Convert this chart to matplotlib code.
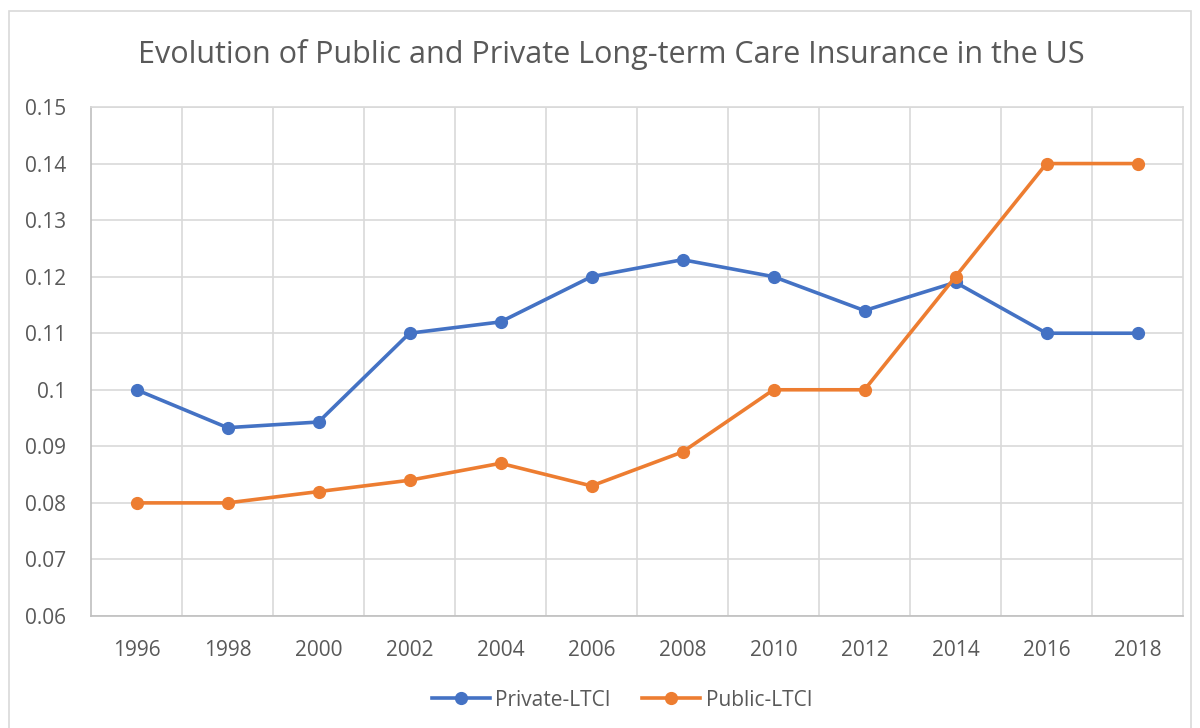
import matplotlib
matplotlib.use("Agg")
import matplotlib.pyplot as plt
import numpy as np
from matplotlib.patches import Rectangle

years = ["1996", "1998", "2000", "2002", "2004", "2006", "2008", "2010", "2012", "2014", "2016", "2018"]
private_ltci = [0.100, 0.0933, 0.0943, 0.110, 0.112, 0.120, 0.123, 0.120, 0.114, 0.119, 0.110, 0.110]
public_ltci = [0.080, 0.080, 0.082, 0.084, 0.087, 0.083, 0.089, 0.100, 0.100, 0.120, 0.140, 0.140]
y_ticks = [0.06, 0.07, 0.08, 0.09, 0.1, 0.11, 0.12, 0.13, 0.14, 0.15]
y_tick_labels = ["0.06", "0.07", "0.08", "0.09", "0.1", "0.11", "0.12", "0.13", "0.14", "0.15"]

plt.rcParams['font.family'] = ['Open Sans', 'DejaVu Sans']
text_col = '#595959'
grid_col = '#d9d9d9'

fig = plt.figure(figsize=(12, 7.28), dpi=100)
fig.patches.append(Rectangle((9/1200, -0.01), 1182/1200, 1 - 11/728 + 0.01,
                             transform=fig.transFigure, fill=False,
                             edgecolor=grid_col, linewidth=1.2))

ax = fig.add_axes([91/1200, 1 - 616/728, (1183 - 91)/1200, (616 - 107)/728])
x = np.arange(len(years))

ax.plot(x, private_ltci, color='#4472C4', linewidth=2.6, marker='o', markersize=8.5,
        label='Private-LTCI', zorder=3)
ax.plot(x, public_ltci, color='#ED7D31', linewidth=2.6, marker='o', markersize=8.5,
        label='Public-LTCI', zorder=3)

ax.set_xlim(-0.5, len(years) - 0.5)
ax.set_ylim(0.06, 0.15)
ax.set_xticks(x)
ax.set_xticklabels(years)
ax.set_xticks(np.arange(0.5, len(years) - 0.5, 1), minor=True)
ax.set_yticks(y_ticks)
ax.set_yticklabels(y_tick_labels)

ax.grid(axis='y', which='major', color=grid_col, linewidth=1.2)
ax.grid(axis='x', which='minor', color=grid_col, linewidth=1.2)
ax.set_axisbelow(True)
ax.tick_params(axis='both', which='both', length=0, labelsize=15, colors=text_col)
ax.tick_params(axis='x', pad=17)
ax.tick_params(axis='y', pad=18)
for s in ['top', 'right']:
    ax.spines[s].set_color(grid_col)
    ax.spines[s].set_linewidth(1.2)
for s in ['left', 'bottom']:
    ax.spines[s].set_color('#bfbfbf')
    ax.spines[s].set_linewidth(1.2)

fig.text(611/1200, 1 - 55/728, "Evolution of Public and Private Long-term Care Insurance in the US",
         ha='center', va='center', fontsize=22, color=text_col)

fig.legend(loc='center', bbox_to_anchor=(622/1200, 1 - 700/728), ncol=2, frameon=False,
           fontsize=15, labelcolor=text_col, handlelength=2.8, columnspacing=1.5,
           handletextpad=0.25)

fig.savefig("out.png", dpi=100)
